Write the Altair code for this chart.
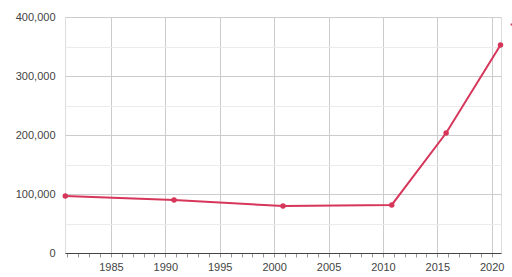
import altair as alt
import pandas as pd

dates = ["1980-10-20", "1990-10-20", "2000-10-25", "2010-10-25", "2015-10-25", "2020-10-25"]
values = [96600, 89800, 79700, 81400, 203400, 352500]
series = "Population"

df = pd.DataFrame({"date": dates, "value": values, "series": series})

tick_years = list(range(1981, 2021))
x_vals = [alt.DateTime(year=y, month=1, date=1) for y in tick_years]
y_vals = list(range(0, 400001, 50000))

is5 = "year(datum.value) % 5 === 0"
is100k = "datum.value % 100000 === 0"

x_axis = alt.Axis(
    values=x_vals,
    format="%Y",
    labelExpr="year(datum.value) % 5 === 0 ? timeFormat(datum.value, '%Y') : ''",
    title=None,
    grid=True,
    gridColor="#cccccc",
    gridOpacity={"condition": {"test": is5, "value": 1}, "value": 0},
    domainColor="#444444",
    tickColor="#999999",
    tickSize=4,
    labelFont="Liberation Sans",
    labelFontSize=11,
    labelColor="#444444",
    labelPadding=4,
    labelFlush=False,
    labelOverlap=False,
)

y_axis = alt.Axis(
    values=y_vals,
    labelExpr=f"{is100k} ? format(datum.value, ',') : ''",
    title=None,
    grid=True,
    gridColor={"condition": {"test": is100k, "value": "#cccccc"}, "value": "#ebebeb"},
    domain=False,
    ticks=False,
    labelFont="Liberation Sans",
    labelFontSize=11,
    labelColor="#444444",
    labelPadding=10,
    labelOverlap=False,
)

color = "#d6365a"

color_enc = alt.Color(
    "series:N",
    scale=alt.Scale(range=[color]),
    legend=alt.Legend(
        title=None, orient="none", legendX=444, legendY=2,
        symbolType="stroke", symbolStrokeWidth=2, symbolSize=60,
        labelFont="Liberation Sans", labelFontSize=11, labelColor="#222222",
    ),
)

base = alt.Chart(df).encode(
    x=alt.X("date:T", axis=x_axis,
            scale=alt.Scale(domain=[alt.DateTime(year=1980, month=10, date=10),
                                    alt.DateTime(year=2020, month=11, date=10)], nice=False)),
    y=alt.Y("value:Q", axis=y_axis, scale=alt.Scale(domain=[0, 400000], nice=False)),
    color=color_enc,
)

line = base.mark_line(strokeWidth=2)
pts = base.mark_point(filled=True, size=30, opacity=1)

chart = (line + pts).properties(
    width=436,
    height=236,
    padding={"left": 65, "top": 17, "right": 11, "bottom": 24},
    autosize="none",
).configure_view(stroke=None).configure(background="white")

chart.save("out.html", embed_options={"renderer": "svg", "actions": False})
